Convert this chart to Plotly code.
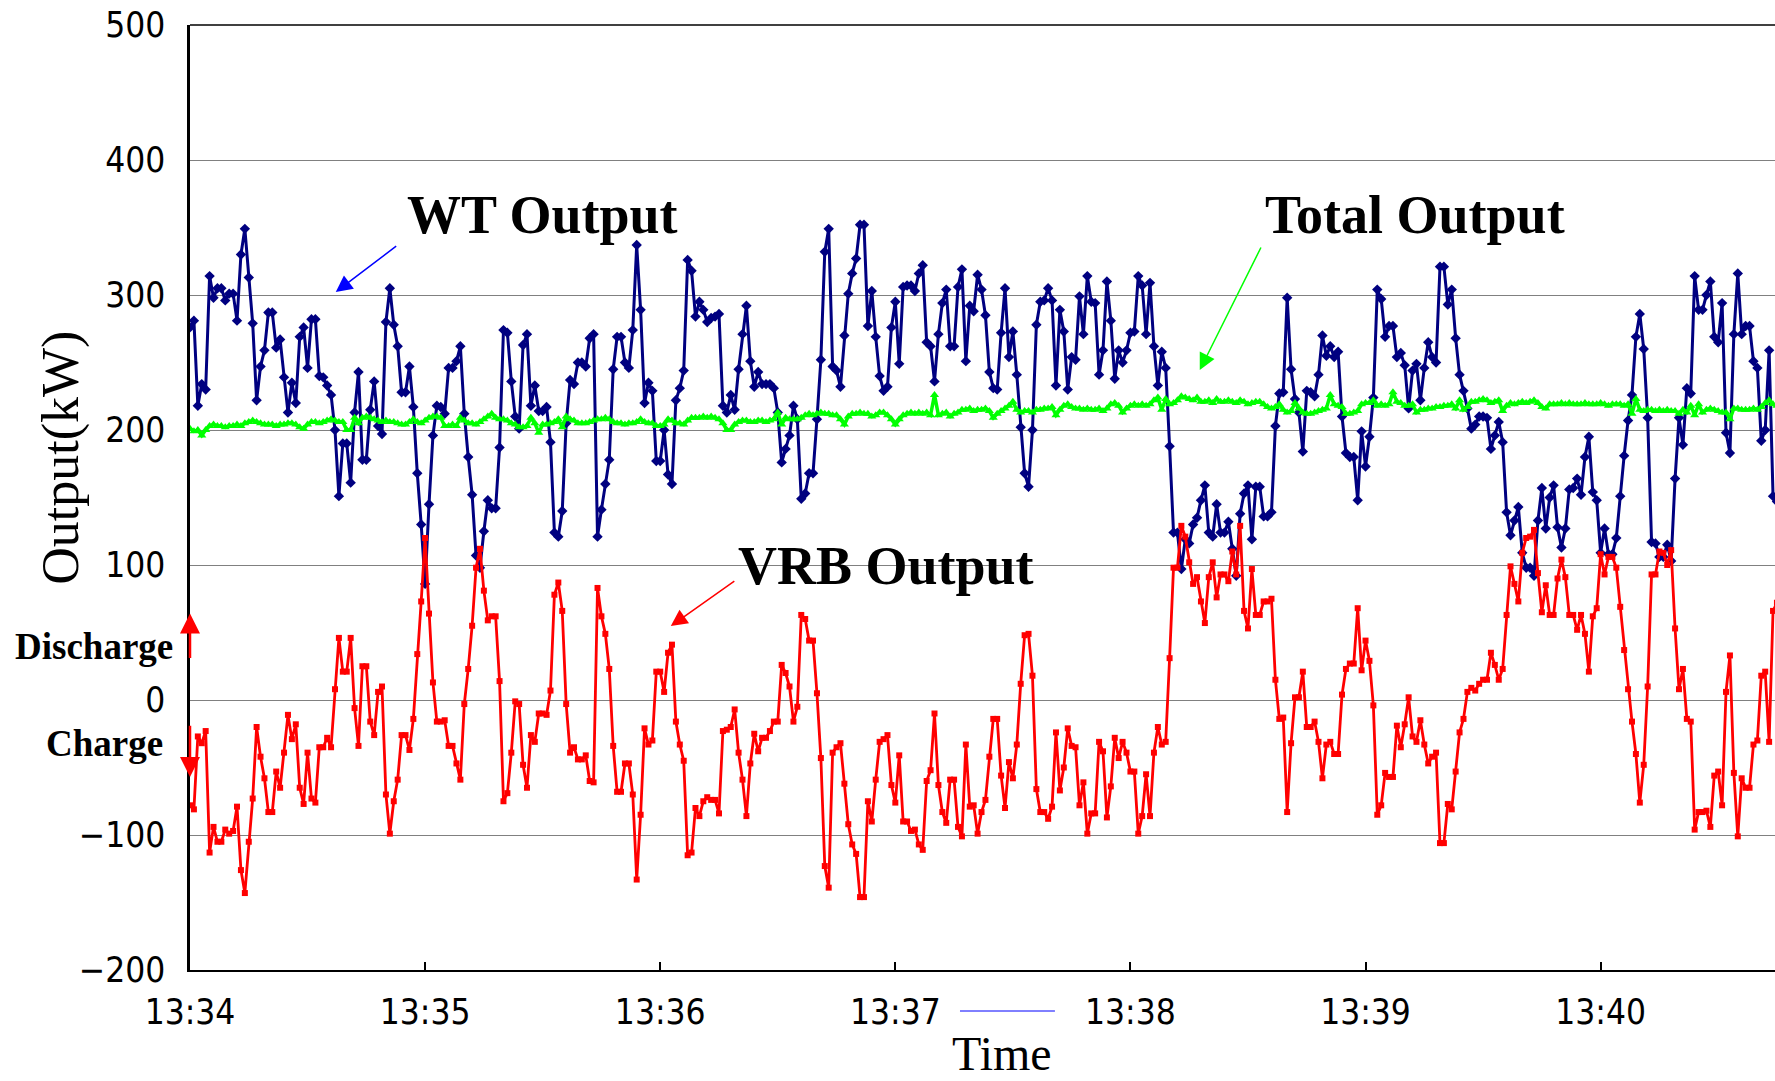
import plotly.graph_objects as go

# ---------------- data (1 s sampling, starting 13:34:00) ----------------
wt_output = [
    276,281,218,234,230,314,298,305,305,296,301,301,281,330,349,313,279,222,247,259,
    287,287,261,267,239,213,235,220,269,276,246,282,282,240,239,233,226,200,151,190,
    190,161,213,243,178,178,215,236,203,197,280,
    305,278,262,228,228,247,217,168,130,86,145,196,218,217,212,246,246,251,262,212,
    180,152,107,98,125,148,142,142,187,274,272,236,210,201,263,271,218,233,214,214,
    217,191,124,121,140,205,237,234,250,250,247,
    268,271,121,141,160,178,245,269,269,250,246,274,337,289,220,235,229,177,177,200,
    167,160,222,231,244,326,318,284,295,289,280,283,284,286,218,213,226,215,245,271,
    292,251,232,243,234,234,234,231,213,176,186,
    196,218,208,149,153,168,168,208,252,332,349,247,244,232,270,301,316,327,352,352,
    277,303,269,240,229,232,276,295,249,306,307,307,303,316,322,265,262,236,271,294,
    304,262,262,306,319,251,292,288,315,304,285,
    243,231,230,272,305,254,273,241,202,168,158,200,278,295,296,305,296,233,289,273,
    230,254,252,299,271,314,295,294,241,259,310,281,238,259,250,259,272,273,314,307,
    271,309,262,233,258,246,188,124,124,97,119,
    116,130,135,148,159,124,121,145,124,124,132,112,92,138,153,159,119,158,158,136,
    136,139,203,227,228,298,245,223,213,184,229,228,225,241,270,255,262,254,258,210,
    183,180,180,148,199,173,195,224,304,297,269,
    277,277,254,257,248,216,244,249,222,246,265,254,250,321,321,293,304,268,241,229,
    216,201,204,210,210,209,186,196,206,191,139,122,133,143,109,98,98,92,133,157,
    127,150,159,128,113,127,156,157,164,152,180,
    195,154,148,109,127,108,108,120,151,181,207,226,269,286,260,209,117,116,106,106,
    115,103,164,209,189,231,227,314,289,289,300,310,269,265,294,198,183,271,316,271,
    277,277,251,246,192,200,259,151,147,
]

vrb_output = [
    -78,-81,-27,-32,-23,-113,-94,-105,-105,-96,-99,-97,-79,-126,-143,-105,-73,-20,-42,-58,
    -83,-83,-53,-65,-39,-11,-29,-18,-65,-77,-39,-73,-76,-35,-35,-28,-35,8,46,21,
    21,46,-6,-34,25,25,-16,-26,6,10,-70,
    -99,-75,-59,-26,-26,-37,-14,34,73,120,64,13,-16,-16,-15,-34,-34,-47,-59,-3,
    23,55,98,112,81,59,62,62,14,-75,-69,-39,-1,-3,-48,-65,-26,-31,-10,-10,
    -11,7,78,87,66,-3,-39,-35,-44,-44,-41,
    -60,-61,83,62,49,23,-34,-68,-68,-47,-47,-70,-133,-85,-21,-33,-30,21,21,6,
    35,41,-16,-33,-45,-115,-113,-80,-86,-75,-72,-74,-74,-84,-23,-22,-20,-7,-39,-59,
    -86,-47,-25,-38,-28,-28,-23,-16,-16,26,20,
    10,-16,-5,63,60,44,44,5,-43,-123,-139,-39,-35,-32,-62,-92,-107,-114,-146,-146,
    -75,-90,-59,-31,-29,-26,-63,-76,-41,-90,-90,-97,-96,-107,-111,-60,-52,-10,-63,-83,
    -91,-59,-59,-94,-101,-33,-79,-78,-99,-83,-74,
    -42,-14,-14,-56,-80,-46,-58,-33,12,48,49,18,-66,-83,-83,-88,-79,-24,-67,-50,
    -21,-34,-35,-78,-61,-99,-84,-84,-31,-38,-87,-64,-28,-43,-31,-39,-53,-53,-99,-86,
    -55,-86,-39,-20,-33,-31,31,98,98,129,121,
    102,86,91,73,57,91,102,76,93,93,88,110,93,129,66,53,97,63,63,73,
    73,75,15,-14,-13,-83,-32,2,2,21,-20,-20,-16,-31,-58,-33,-31,-40,-40,4,
    23,27,27,68,22,44,29,-4,-85,-78,-54,
    -57,-57,-19,-35,-18,2,-27,-31,-15,-33,-47,-42,-39,-106,-106,-77,-81,-53,-24,-14,
    6,9,7,12,15,15,35,26,15,23,63,99,86,73,109,120,121,126,94,65,
    85,63,63,90,104,91,63,63,52,63,49,
    21,62,68,108,93,106,106,98,69,37,8,-16,-40,-76,-48,10,93,93,110,109,
    100,111,53,8,23,-14,-16,-96,-83,-83,-82,-94,-56,-53,-78,6,33,-54,-101,-58,
    -65,-65,-33,-30,18,21,-31,66,72,
]

total_output = [
    201,199,200,196,200,203,204,203,203,202, 203,203,204,203,205,206,207,206,205,204,
    204,204,203,204,204,205,205,204,202,201, 204,206,206,205,206,207,208,207,206,206,
    200,200,209,205,209,210,209,208,207,206, 207,206,206,205,204,204,206,208,206,205,
    207,209,210,210,209,203,203,204,203,209, 207,205,205,204,206,208,210,212,209,208,
    208,207,205,204,202,202,203,209,205,198, 204,204,205,206,208,202,210,208,207,205,
    205,205,206,207,208,208,209,208,206,205, 205,204,205,205,206,208,206,205,205,203,
    203,204,208,207,205,205,204,207,209,209, 209,210,209,210,209,208,205,200,200,204,
    206,207,207,206,206,207,207,206,207,208, 213,204,209,208,208,208,209,211,212,211,
    212,213,212,212,211,211,208,204,210,212, 212,213,212,212,210,211,213,213,211,208,
    204,208,211,212,213,212,213,212,213,211, 226,211,212,213,210,212,213,215,215,216,
    214,215,215,216,214,209,212,214,216,218, 221,215,213,214,214,213,215,215,216,216,
    217,211,215,218,219,217,216,216,215,216, 215,215,216,214,216,219,220,218,213,216,
    218,219,218,219,218,219,222,224,215,223, 219,220,222,225,224,223,222,224,221,221,
    222,220,223,221,221,222,221,220,222,221, 219,220,221,221,219,217,216,217,219,215,
    213,214,220,216,213,212,212,213,214,215, 216,226,219,218,217,212,212,213,214,219,
    220,220,222,218,219,218,219,228,221,220, 218,218,219,213,215,215,216,216,217,217,
    218,218,219,216,222,215,217,221,221,222, 223,222,220,221,222,214,218,220,219,220,
    221,220,221,222,220,217,216,219,219,219, 220,219,220,219,219,219,220,219,219,219,
    220,219,218,219,219,219,218,219,212,223, 215,214,215,215,214,215,214,215,214,214,
    212,215,213,218,211,219,213,215,216,215, 214,213,213,208,216,216,215,215,215,216,
    215,217,220,222,219,218,
]

sample_interval_s = 1.0
seconds = [i * sample_interval_s for i in range(len(wt_output))]

minute_ticks = [0, 60, 120, 180, 240, 300, 360]
minute_labels = ["13:34", "13:35", "13:36", "13:37", "13:38", "13:39", "13:40"]
y_ticks = [-200, -100, 0, 100, 200, 300, 400, 500]

# ---------------- figure ----------------
fig = go.Figure()

fig.add_trace(go.Scatter(
    x=seconds, y=wt_output, mode="lines+markers", name="WT Output",
    line=dict(color="#000080", width=3),
    marker=dict(symbol="diamond", size=8, color="#000080"),
))
fig.add_trace(go.Scatter(
    x=seconds, y=vrb_output, mode="lines+markers", name="VRB Output",
    line=dict(color="#FF0000", width=2.8),
    marker=dict(symbol="square", size=6, color="#FF0000"),
))
fig.add_trace(go.Scatter(
    x=seconds, y=total_output, mode="lines+markers", name="Total Output",
    line=dict(color="#00FF00", width=3.5),
    marker=dict(symbol="triangle-up", size=8, color="#00FF00"),
))

tick_font = dict(family="Liberation Sans Narrow, DejaVu Sans Condensed, Arial Narrow, sans-serif",
                 size=35, color="black")
serif = "Liberation Serif, Times New Roman, serif"

fig.update_layout(
    width=1775, height=1081,
    margin=dict(l=190, r=0, t=25, b=111),
    plot_bgcolor="white", paper_bgcolor="white",
    showlegend=False,
    xaxis=dict(
        range=[0, 404.5], tickvals=minute_ticks, ticktext=minute_labels,
        showgrid=False, zeroline=False,
        showline=True, linecolor="black", linewidth=2,
        ticks="inside", ticklen=8, tickwidth=1.5, tickcolor="black",
        tickfont=tick_font, ticklabelstandoff=10,
    ),
    yaxis=dict(
        range=[-200, 500], tickvals=y_ticks,
        showgrid=True, gridcolor="#808080", gridwidth=1,
        zeroline=False,
        showline=True, linecolor="black", linewidth=2.5,
        ticks="", tickfont=tick_font, ticklabelstandoff=15,
    ),
)

# top frame line
fig.add_shape(type="line", xref="paper", yref="paper", x0=0, x1=1, y0=1, y1=1,
              line=dict(color="black", width=1.5))
# small blue legend-like stroke near the time axis
fig.add_shape(type="line", xref="paper", yref="paper", x0=0.4858, x1=0.5457,
              y0=-0.0434, y1=-0.0434, line=dict(color="#0000FF", width=1))

ann = []
# axis titles
ann.append(dict(text="Output(kW)", xref="paper", yref="paper", x=-0.0815, y=0.5418,
                textangle=-90, showarrow=False, xanchor="center", yanchor="middle",
                font=dict(family=serif, size=52, color="black")))
ann.append(dict(text="Time", xref="paper", yref="paper", x=0.5123, y=-0.088,
                showarrow=False, xanchor="center", yanchor="middle",
                font=dict(family=serif, size=48, color="black")))
# series labels
bold_serif = dict(family=serif, size=54, color="black")
ann.append(dict(text="<b>WT Output</b>", x=90, y=359, showarrow=False,
                xanchor="center", yanchor="middle", font=bold_serif))
ann.append(dict(text="<b>Total Output</b>", x=312.7, y=359, showarrow=False,
                xanchor="center", yanchor="middle", font=bold_serif))
ann.append(dict(text="<b>VRB Output</b>", x=177.7, y=99.3, showarrow=False,
                xanchor="center", yanchor="middle", font=bold_serif))
# pointer arrows
for tip, tail, col in [((37.2, 302.2), (53.0, 337.0), "#0000FF"),
                       ((257.7, 244.4), (273.5, 336.3), "#00FF00"),
                       ((122.7, 54.8), (139.3, 88.9), "#FF0000")]:
    ann.append(dict(text="", x=tip[0], y=tip[1], ax=tail[0], ay=tail[1],
                    axref="x", ayref="y", showarrow=True, arrowhead=2,
                    arrowsize=2.2, arrowwidth=1.5, arrowcolor=col))
# discharge / charge
small_bold = dict(family=serif, size=37, color="black")
ann.append(dict(text="<b>Discharge</b>", xref="paper", yref="paper", x=-0.0095, y=0.3418,
                showarrow=False, xanchor="right", yanchor="middle", font=small_bold))
ann.append(dict(text="<b>Charge</b>", xref="paper", yref="paper", x=-0.0158, y=0.2392,
                showarrow=False, xanchor="right", yanchor="middle", font=small_bold))
ann.append(dict(text="", x=0, y=64, ax=0, ay=30, axref="x", ayref="y",
                showarrow=True, arrowhead=2, arrowsize=1.6, arrowwidth=2.5,
                arrowcolor="#FF0000"))
ann.append(dict(text="", x=0, y=-57, ax=0, ay=-18, axref="x", ayref="y",
                showarrow=True, arrowhead=2, arrowsize=1.6, arrowwidth=2.5,
                arrowcolor="#FF0000"))
fig.update_layout(annotations=ann)

fig.write_html("out.html")
